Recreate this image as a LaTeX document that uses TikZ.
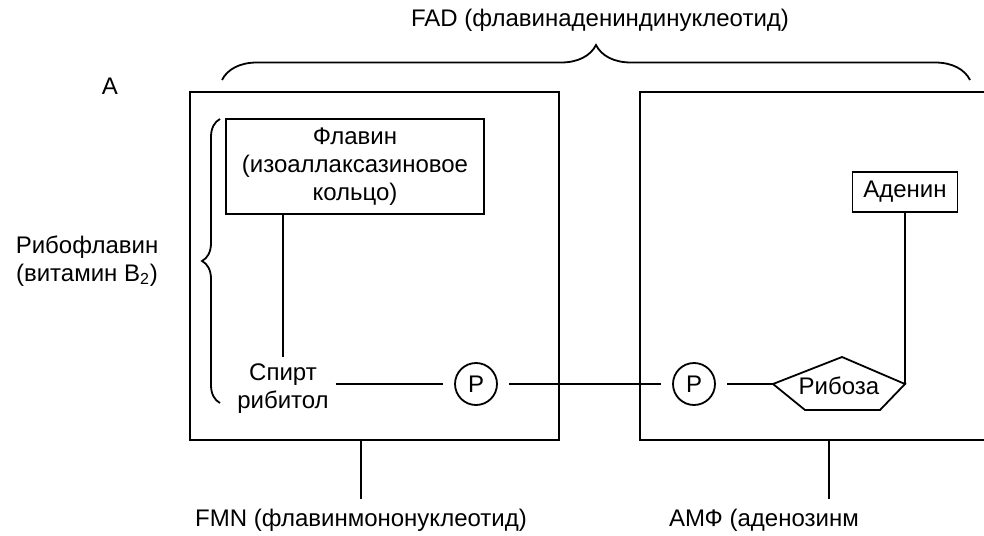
\documentclass[tikz,border=0pt]{standalone}
\usepackage{fontspec}
\setmainfont{Liberation Sans}
\usetikzlibrary{decorations.pathreplacing}

\begin{document}
\begin{tikzpicture}[x=0.5pt,y=-0.5pt,line width=0.9pt]
    \useasboundingbox (0,0) rectangle (984,535);
    \clip (0,0) rectangle (984,535);
    \tikzset{every node/.style = {%
        font= \fontsize{12}{14}\selectfont,
        align= center,
        inner sep= 2pt},
      PartStyle/.style = {%
        draw,
        minimum height = 174pt},
      PhosphStyle/.style = {%
        shape= circle,
        draw,
        inner sep= 0pt,
        outer sep= 6pt,
        minimum size = 21pt},
      BraceStyle/.style = {%
        decorate,
        decoration= {brace,amplitude=#1}}}
    % both halves of the molecule
    \node[PartStyle,minimum width=184.5pt] (fmnbox) at (374.5,266) {};
    \node[PartStyle,minimum width=189pt] (amfbox) at (829,266) {};
    \node (lblA) at (110,86) {А};
    \node (fad) at (600,20) {FAD (флавинадениндинуклеотид)};
    \coordinate (fadL) at (222,80);
    \coordinate (fadR) at (970,80);
    \draw[BraceStyle=17.5pt] (fadL) -- (fadR);
    % riboflavin part
    \node[draw,minimum width=129pt,minimum height=47.5pt] (flavin) at (355,166.5)
        {Флавин\\(изоаллаксазиновое\\кольцо)};
    \node[inner sep=3pt] (spirt) at (283,389) {Спирт\\рибитол};
    \node (ribofl) at (87,261) {Рибофлавин\\(витамин B\textsubscript{2})};
    \coordinate (riboTop) at (220,119);
    \coordinate (riboBot) at (220,403);
    \draw[BraceStyle=9pt] (riboBot) -- (riboTop);
    \node[PhosphStyle] (p1) at (476,384) {P};
    % adenosine part
    \node[PhosphStyle] (p2) at (694,384) {P};
    \node[draw,minimum width=52.5pt,minimum height=20pt] (adenin) at (905,192) {Аденин};
    \node (riboza) at (839,386) {Рибоза};
    \coordinate (ribL) at (773,384);
    \coordinate (ribT) at (842,357);
    \coordinate (ribR) at (905,384);
    \coordinate (ribBR) at (880,410);
    \coordinate (ribBL) at (805,410);
    \draw (ribL) -- (ribT) -- (ribR) -- (ribBR) -- (ribBL) -- cycle;
    % bonds
    \draw (flavin.south -| spirt.north) -- (spirt.north);
    \draw (spirt.east |- p1) -- (p1);
    \draw (p1) -- (p2);
    \draw (p2) -- (ribL);
    \draw (adenin) -- (ribR);
    % names below
    \node[outer sep=3pt] (fmn) at (361,520) {FMN (флавинмононуклеотид)};
    \node[anchor=west,outer sep=3pt] (amf) at (659,520) {АМФ (аденозинм};
    \draw (fmnbox.south -| fmn.north) -- (fmn.north);
    \draw (amfbox.south) -- (amfbox.south |- amf.north);
\end{tikzpicture}
\end{document}
